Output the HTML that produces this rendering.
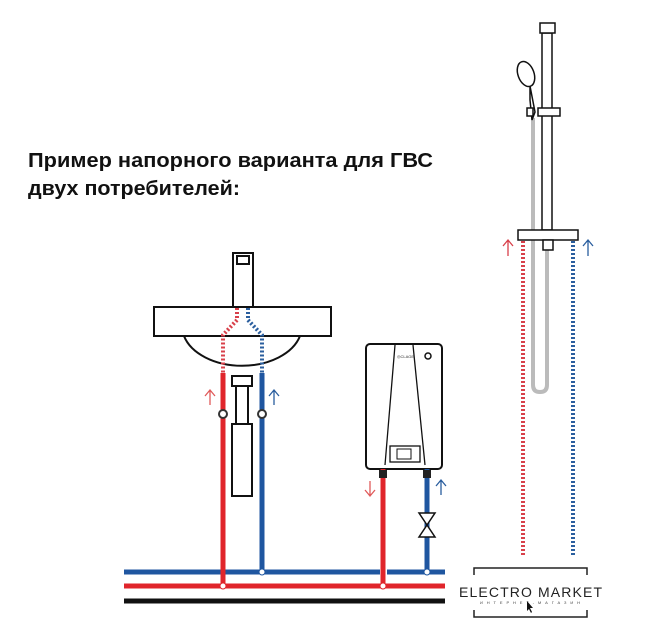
<!DOCTYPE html>
<html><head><meta charset="utf-8"><style>
html,body{margin:0;padding:0;background:#fff;}
svg{display:block;}
</style></head><body>
<svg width="648" height="630" viewBox="0 0 648 630" xmlns="http://www.w3.org/2000/svg">
<g font-family="Liberation Sans, sans-serif" font-weight="bold" font-size="20" fill="#111">
<text x="28" y="167" textLength="405" lengthAdjust="spacingAndGlyphs">Пример напорного варианта для ГВС</text>
<text x="28" y="195" textLength="212" lengthAdjust="spacingAndGlyphs">двух потребителей:</text>
</g>
<line x1="124" y1="572" x2="445" y2="572" stroke="#1f56a0" stroke-width="5"/>
<line x1="124" y1="586" x2="445" y2="586" stroke="#e0252b" stroke-width="5"/>
<line x1="124" y1="601" x2="445" y2="601" stroke="#111" stroke-width="5"/>
<g stroke="#111" stroke-width="2" fill="#fff">
<rect x="233" y="253" width="20" height="54"/>
<rect x="237" y="256" width="12" height="8"/>
<path d="M184 336 A60 40 0 0 0 300 336"/>
<rect x="154" y="307" width="177" height="29"/>
<rect x="232" y="376" width="20" height="10"/>
<rect x="236" y="386" width="12" height="38"/>
<rect x="232" y="424" width="20" height="72"/>
</g>
<path d="M237 308 V320 L223 335 V373" stroke="#d8404a" stroke-width="4" stroke-dasharray="2,2" fill="none"/>
<path d="M248 308 V320 L262 335 V373" stroke="#2a5e9e" stroke-width="4" stroke-dasharray="2,2" fill="none"/>
<line x1="223" y1="373" x2="223" y2="586" stroke="#e0252b" stroke-width="5"/>
<line x1="262" y1="373" x2="262" y2="572" stroke="#1f56a0" stroke-width="5"/>
<circle cx="223" cy="414" r="4" fill="#fff" stroke="#333" stroke-width="2"/>
<circle cx="262" cy="414" r="4" fill="#fff" stroke="#333" stroke-width="2"/>
<path d="M210 405 V391 M205 396 L210 390 L215 396" stroke="#e05a5a" stroke-width="1.3" fill="none"/>
<path d="M274 405 V391 M269 396 L274 390 L279 396" stroke="#2a5e9e" stroke-width="1.3" fill="none"/>
<circle cx="223" cy="586" r="3" fill="#fff" stroke="#e0252b"/>
<circle cx="262" cy="572" r="3" fill="#fff" stroke="#1f56a0"/>
<rect x="366" y="344" width="76" height="125" rx="4" fill="#fff" stroke="#111" stroke-width="2"/>
<path d="M395 345 L385 465 M413 345 L425 465" stroke="#111" stroke-width="1.3"/>
<rect x="390" y="446" width="30" height="16" fill="#fff" stroke="#111" stroke-width="1.3"/>
<rect x="397" y="449" width="14" height="10" fill="#fff" stroke="#111"/>
<circle cx="428" cy="356" r="3" fill="none" stroke="#111" stroke-width="1.5"/>
<text x="397" y="358" font-family="Liberation Sans, sans-serif" font-size="4" fill="#333">◎CLAGE</text>
<line x1="383" y1="469" x2="383" y2="586" stroke="#e0252b" stroke-width="5"/>
<line x1="427" y1="469" x2="427" y2="572" stroke="#1f56a0" stroke-width="5"/>
<rect x="379" y="470" width="8" height="8" fill="#222"/>
<rect x="423" y="470" width="8" height="8" fill="#222"/>
<path d="M419 513 H435 L419 537 H435 Z" fill="#fff" stroke="#111" stroke-width="1.5"/>
<path d="M370 481 V495 M365 490 L370 496 L375 490" stroke="#e05a5a" stroke-width="1.3" fill="none"/>
<path d="M441 495 V481 M436 486 L441 480 L446 486" stroke="#2a5e9e" stroke-width="1.3" fill="none"/>
<line x1="380" y1="572" x2="387" y2="572" stroke="#fff" stroke-width="6"/>
<line x1="383" y1="566" x2="383" y2="586" stroke="#e0252b" stroke-width="5"/>
<circle cx="383" cy="586" r="3" fill="#fff" stroke="#e0252b"/>
<circle cx="427" cy="572" r="3" fill="#fff" stroke="#1f56a0"/>
<path d="M533 118 V385 Q533 392 540 392 Q547 392 547 385 V240" stroke="#bbb" stroke-width="4" fill="none"/>
<g stroke="#111" stroke-width="1.5" fill="#fff">
<rect x="542" y="33" width="10" height="197"/>
<rect x="540" y="23" width="15" height="10"/>
<ellipse cx="526" cy="74" rx="8" ry="13" transform="rotate(-20 526 74)"/>
<path d="M530 86 L535 112 L532 120 L530 100 Z"/>
<rect x="527" y="108" width="6" height="8"/>
<rect x="538" y="108" width="22" height="8"/>
<rect x="518" y="230" width="60" height="10"/>
<rect x="543" y="240" width="10" height="10"/>
</g>
<line x1="523" y1="241" x2="523" y2="555" stroke="#d8404a" stroke-width="4" stroke-dasharray="2,2"/>
<line x1="573" y1="241" x2="573" y2="555" stroke="#2a5e9e" stroke-width="4" stroke-dasharray="2,2"/>
<path d="M508 256 V241 M503 246 L508 240 L513 246" stroke="#d8404a" stroke-width="1.3" fill="none"/>
<path d="M588 256 V241 M583 246 L588 240 L593 246" stroke="#2a5e9e" stroke-width="1.3" fill="none"/>
<path d="M474 575 V568 H587 V575 M474 610 V617 H587 V610" stroke="#222" stroke-width="1.5" fill="none"/>
<text x="459" y="597" font-family="Liberation Sans, sans-serif" font-size="14" fill="#222" textLength="143" lengthAdjust="spacing">ELECTRO MARKET</text>
<text x="480" y="604" font-family="Liberation Sans, sans-serif" font-size="4" fill="#444" textLength="100">ИНТЕРНЕТ-МАГАЗИН</text>
<path d="M527 601 L527 611 L529 609 L531 613 L532 612 L530 608 L533 608 Z" fill="#111"/>
</svg>
</body></html>
